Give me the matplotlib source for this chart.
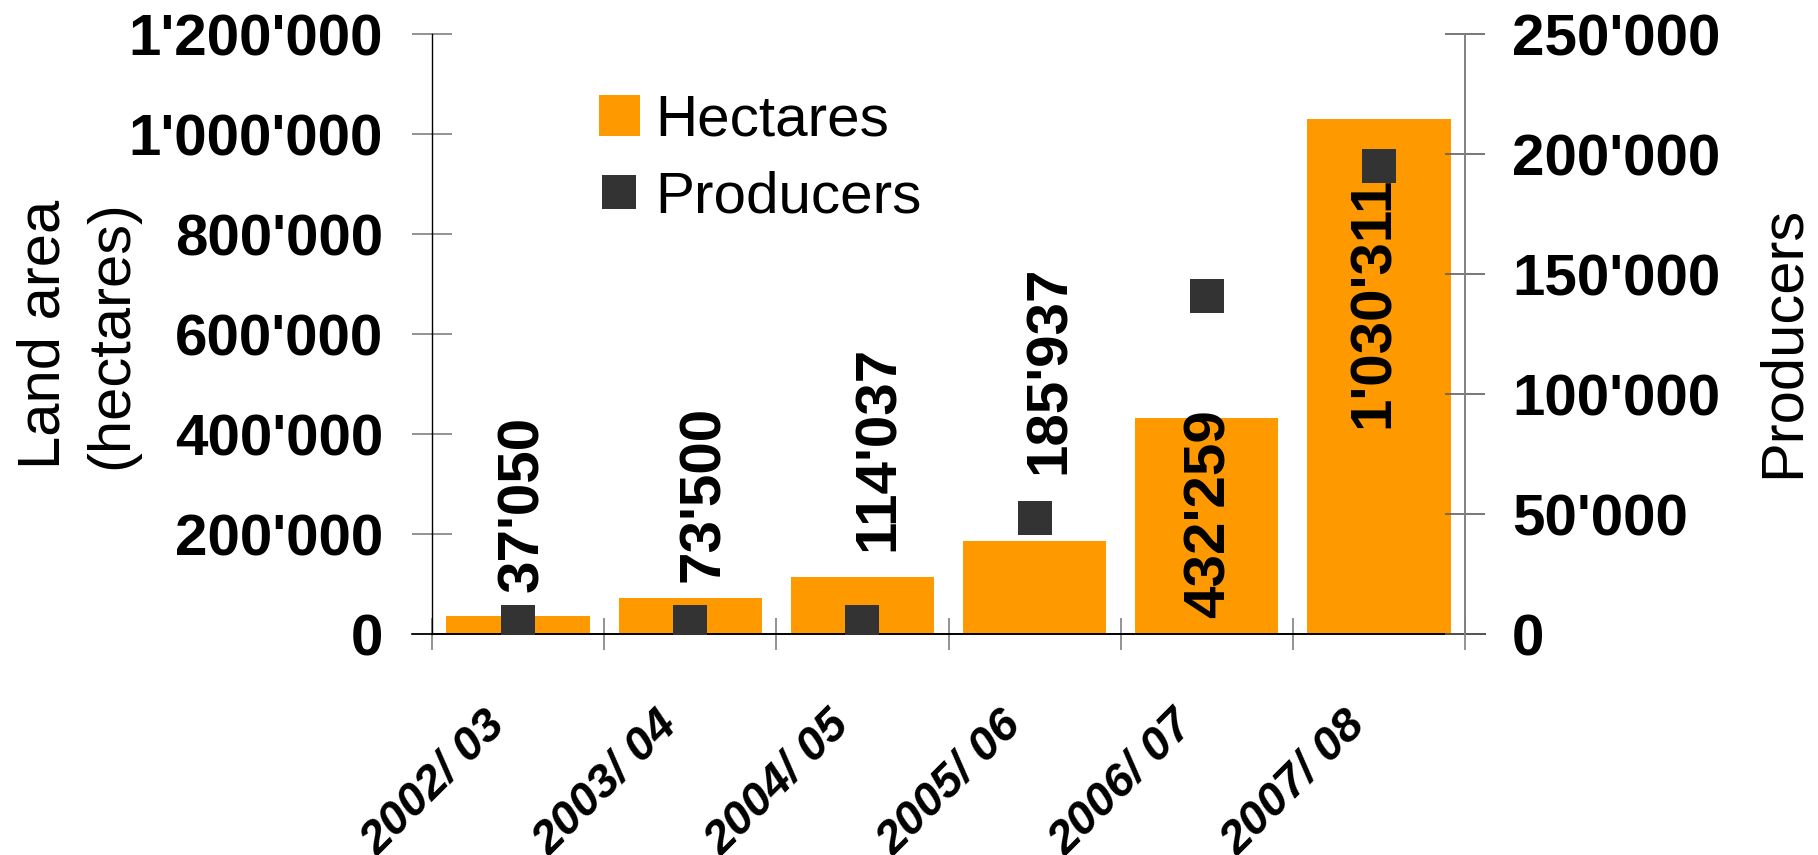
import matplotlib
matplotlib.use("Agg")
import matplotlib.pyplot as plt
from matplotlib.ticker import FuncFormatter, FixedLocator

# ---------------- data ----------------
seasons = ["2002/ 03", "2003/ 04", "2004/ 05", "2005/ 06", "2006/ 07", "2007/ 08"]
hectares = [37050, 73500, 114037, 185937, 432259, 1030311]
producers = [5100, 5100, 5100, 48500, 141000, 195000]
left_ticks = [0, 200000, 400000, 600000, 800000, 1000000, 1200000]
right_ticks = [0, 50000, 100000, 150000, 200000, 250000]

# ---------------- style ----------------
plt.rcParams['font.family'] = ['Liberation Sans', 'DejaVu Sans']
ORANGE = '#FF9900'
DARK = '#333333'
GRAY = '#808080'
W, H, DPI = 1818, 855, 100
PT = 72 / DPI  # points per pixel

def apos(v, pos=None):
    return f"{v:,.0f}".replace(",", "'")

fig = plt.figure(figsize=(W / DPI, H / DPI), dpi=DPI)
ax = fig.add_axes([432.3 / W, 1 - 634.3 / H, 1032.4 / W, 600 / H])
ax2 = ax.twinx()

xs = list(range(len(seasons)))
ax.bar(xs, hectares, width=0.835, color=ORANGE, zorder=2, label='Hectares')
ax2.plot(xs, producers, ls='none', marker='s', ms=24.5, mew=0,
         color=DARK, label='Producers', zorder=4)

ax.set_xlim(-0.5, len(seasons) - 0.5)
ax.set_ylim(left_ticks[0], left_ticks[-1])
ax2.set_ylim(right_ticks[0], right_ticks[-1])

ax.yaxis.set_major_locator(FixedLocator(left_ticks))
ax.yaxis.set_major_formatter(FuncFormatter(apos))
ax2.yaxis.set_major_locator(FixedLocator(right_ticks))
ax2.yaxis.set_major_formatter(FuncFormatter(apos))

tick_len = 40 * PT
ax.tick_params(axis='y', direction='inout', length=tick_len, width=1.2, color=GRAY,
               labelsize=42, pad=21)
ax2.tick_params(axis='y', direction='inout', length=tick_len, width=1.2, color='#606060',
                labelsize=42, pad=19.6)
for lbl in ax.get_yticklabels() + ax2.get_yticklabels():
    lbl.set_fontweight('bold')

# x axis: separator ticks only; category labels drawn as annotations
ax.set_xticks(xs)
ax.set_xticklabels([])
ax.tick_params(axis='x', which='major', length=0)
ax.set_xticks([i - 0.5 for i in range(len(seasons) + 1)], minor=True)
ax.tick_params(axis='x', which='minor', direction='inout', length=32 * PT,
               width=1.2, color=GRAY)
ax2.tick_params(axis='x', which='both', length=0)
for i, s in enumerate(seasons):
    ax.annotate(s, xy=(i, 0), xytext=(-35 * PT, -68 * PT), textcoords='offset points',
                rotation=45, rotation_mode='anchor', ha='right', va='top',
                fontsize=34, fontweight='bold', fontstyle='italic',
                annotation_clip=False)

# spines
for s in ['top', 'right']:
    ax.spines[s].set_visible(False)
for s in ['top', 'left', 'bottom']:
    ax2.spines[s].set_visible(False)
ax.spines['left'].set_color('black')
ax.spines['left'].set_linewidth(1.0)
ax.spines['bottom'].set_color('black')
ax.spines['bottom'].set_linewidth(1.2)
ax2.spines['right'].set_color(GRAY)
ax2.spines['right'].set_linewidth(1.4)
ext = 20 / 1032.4
ax.plot([-ext, 1 + ext], [0, 0], transform=ax.transAxes, color='black', lw=1.2,
        clip_on=False, zorder=5)

# axis titles
ax.set_ylabel("Land area\n(hectares)", fontsize=43, linespacing=1.3)
ax.yaxis.set_label_coords((139 - 432.3) / 1032.4, 0.5)
ax2.set_ylabel("Producers", fontsize=43)
ax2.yaxis.set_label_coords((1756 - 432.3) / 1032.4, 1 - (342 - 34.3) / 600)

# value labels
lab_va = ['bottom', 'bottom', 'bottom', 'bottom', 'top', 'top']
lab_dx_px = [5, 13.5, 16.5, 15.5, 3.5, -5]
lab_dy_px = [24, 15.5, 26, 67, 8.5, -57]
for i, v in enumerate(hectares):
    ax.annotate(apos(v), xy=(i, v),
                xytext=(lab_dx_px[i] * PT, lab_dy_px[i] * PT),
                textcoords='offset points', rotation=90, ha='center', va=lab_va[i],
                fontsize=42, fontweight='bold', color='black', zorder=3,
                annotation_clip=False)

# legend
h1, l1 = ax.get_legend_handles_labels()
h2, l2 = ax2.get_legend_handles_labels()
ax2.legend(h1 + h2, l1 + l2, loc='upper left',
           bbox_to_anchor=(599 / W, 1 - 93.5 / H), bbox_transform=fig.transFigure,
           frameon=False, fontsize=42, handlelength=0.7, handleheight=0.7,
           handletextpad=0.26, labelspacing=0.4, borderpad=0, borderaxespad=0)

fig.savefig("out.png", dpi=DPI)
